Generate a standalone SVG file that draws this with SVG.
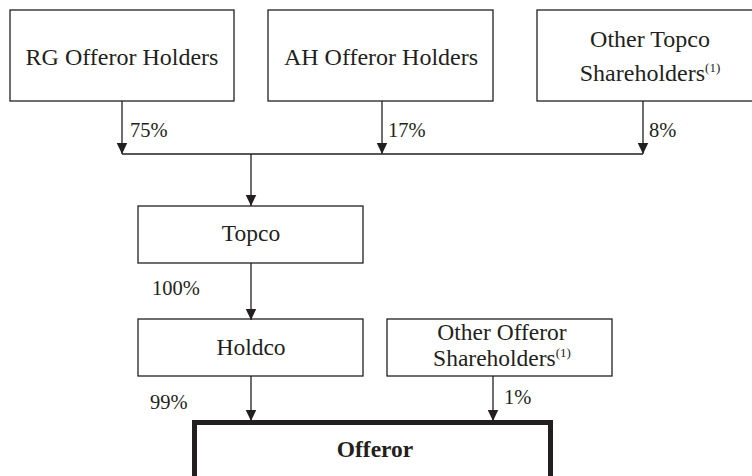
<svg xmlns="http://www.w3.org/2000/svg" width="752" height="476" viewBox="0 0 752 476">
<defs>
<style>
.box{fill:#fff;stroke:#231f20;stroke-width:1.3}
.thick{fill:#fff;stroke:#231f20;stroke-width:5}
.t{font-size:23.5px;fill:#231f20;text-anchor:middle}
.b{font-weight:bold}
.sup{font-size:13px}
.p{font-size:20.5px;fill:#231f20}
.ln{fill:none;stroke:#231f20;stroke-width:1.3}
</style>
<marker id="arr" markerUnits="userSpaceOnUse" markerWidth="12" markerHeight="12" viewBox="0 0 12 12" refX="11.5" refY="6" orient="auto">
<path d="M0,0.5 L11.5,6 L0,11.5 Z" fill="#231f20"/>
</marker>
</defs>
<g font-family="'Liberation Serif', 'Times New Roman', 'DejaVu Serif', serif">
<g id="rg-offeror-holders">
<rect class="box" x="10" y="10" width="224" height="91"/>
<text class="t" x="122" y="65" style="font-size:24px">RG Offeror Holders</text>
</g>
<g id="ah-offeror-holders">
<rect class="box" x="268" y="10" width="225" height="91"/>
<text class="t" x="381" y="65" style="font-size:24px">AH Offeror Holders</text>
</g>
<g id="other-topco-shareholders">
<rect class="box" x="537" y="10" width="226" height="91"/>
<text class="t" x="650" y="47" style="font-size:24px">Other Topco</text>
<text class="t" x="650" y="81" style="font-size:24px">Shareholders<tspan class="sup" dy="-9">(1)</tspan></text>
</g>
<g id="topco">
<rect class="box" x="138" y="206" width="225" height="57"/>
<text class="t" x="251" y="241">Topco</text>
</g>
<g id="holdco">
<rect class="box" x="138" y="319" width="225" height="57"/>
<text class="t" x="251" y="355">Holdco</text>
</g>
<g id="other-offeror-shareholders">
<rect class="box" x="387" y="319" width="225" height="57"/>
<text class="t" x="502" y="340">Other Offeror</text>
<text class="t" x="502" y="366">Shareholders<tspan class="sup" dy="-9">(1)</tspan></text>
</g>
<g id="offeror">
<rect class="thick" x="194.5" y="422.5" width="356" height="90"/>
<text class="t b" x="375" y="457">Offeror</text>
</g>
<g id="connectors">
<path class="ln" d="M122,101 V154" marker-end="url(#arr)"/>
<path class="ln" d="M382,101 V154" marker-end="url(#arr)"/>
<path class="ln" d="M643,101 V154" marker-end="url(#arr)"/>
<path class="ln" d="M122,154 H643"/>
<path class="ln" d="M251,154 V206" marker-end="url(#arr)"/>
<path class="ln" d="M251,263 V320" marker-end="url(#arr)"/>
<path class="ln" d="M251,376 V421" marker-end="url(#arr)"/>
<path class="ln" d="M493,376 V421" marker-end="url(#arr)"/>
<text class="p" x="130" y="137">75%</text>
<text class="p" x="388" y="137">17%</text>
<text class="p" x="649" y="137">8%</text>
<text class="p" x="152" y="295">100%</text>
<text class="p" x="150" y="409">99%</text>
<text class="p" x="504" y="404">1%</text>
</g>
</g>
</svg>
